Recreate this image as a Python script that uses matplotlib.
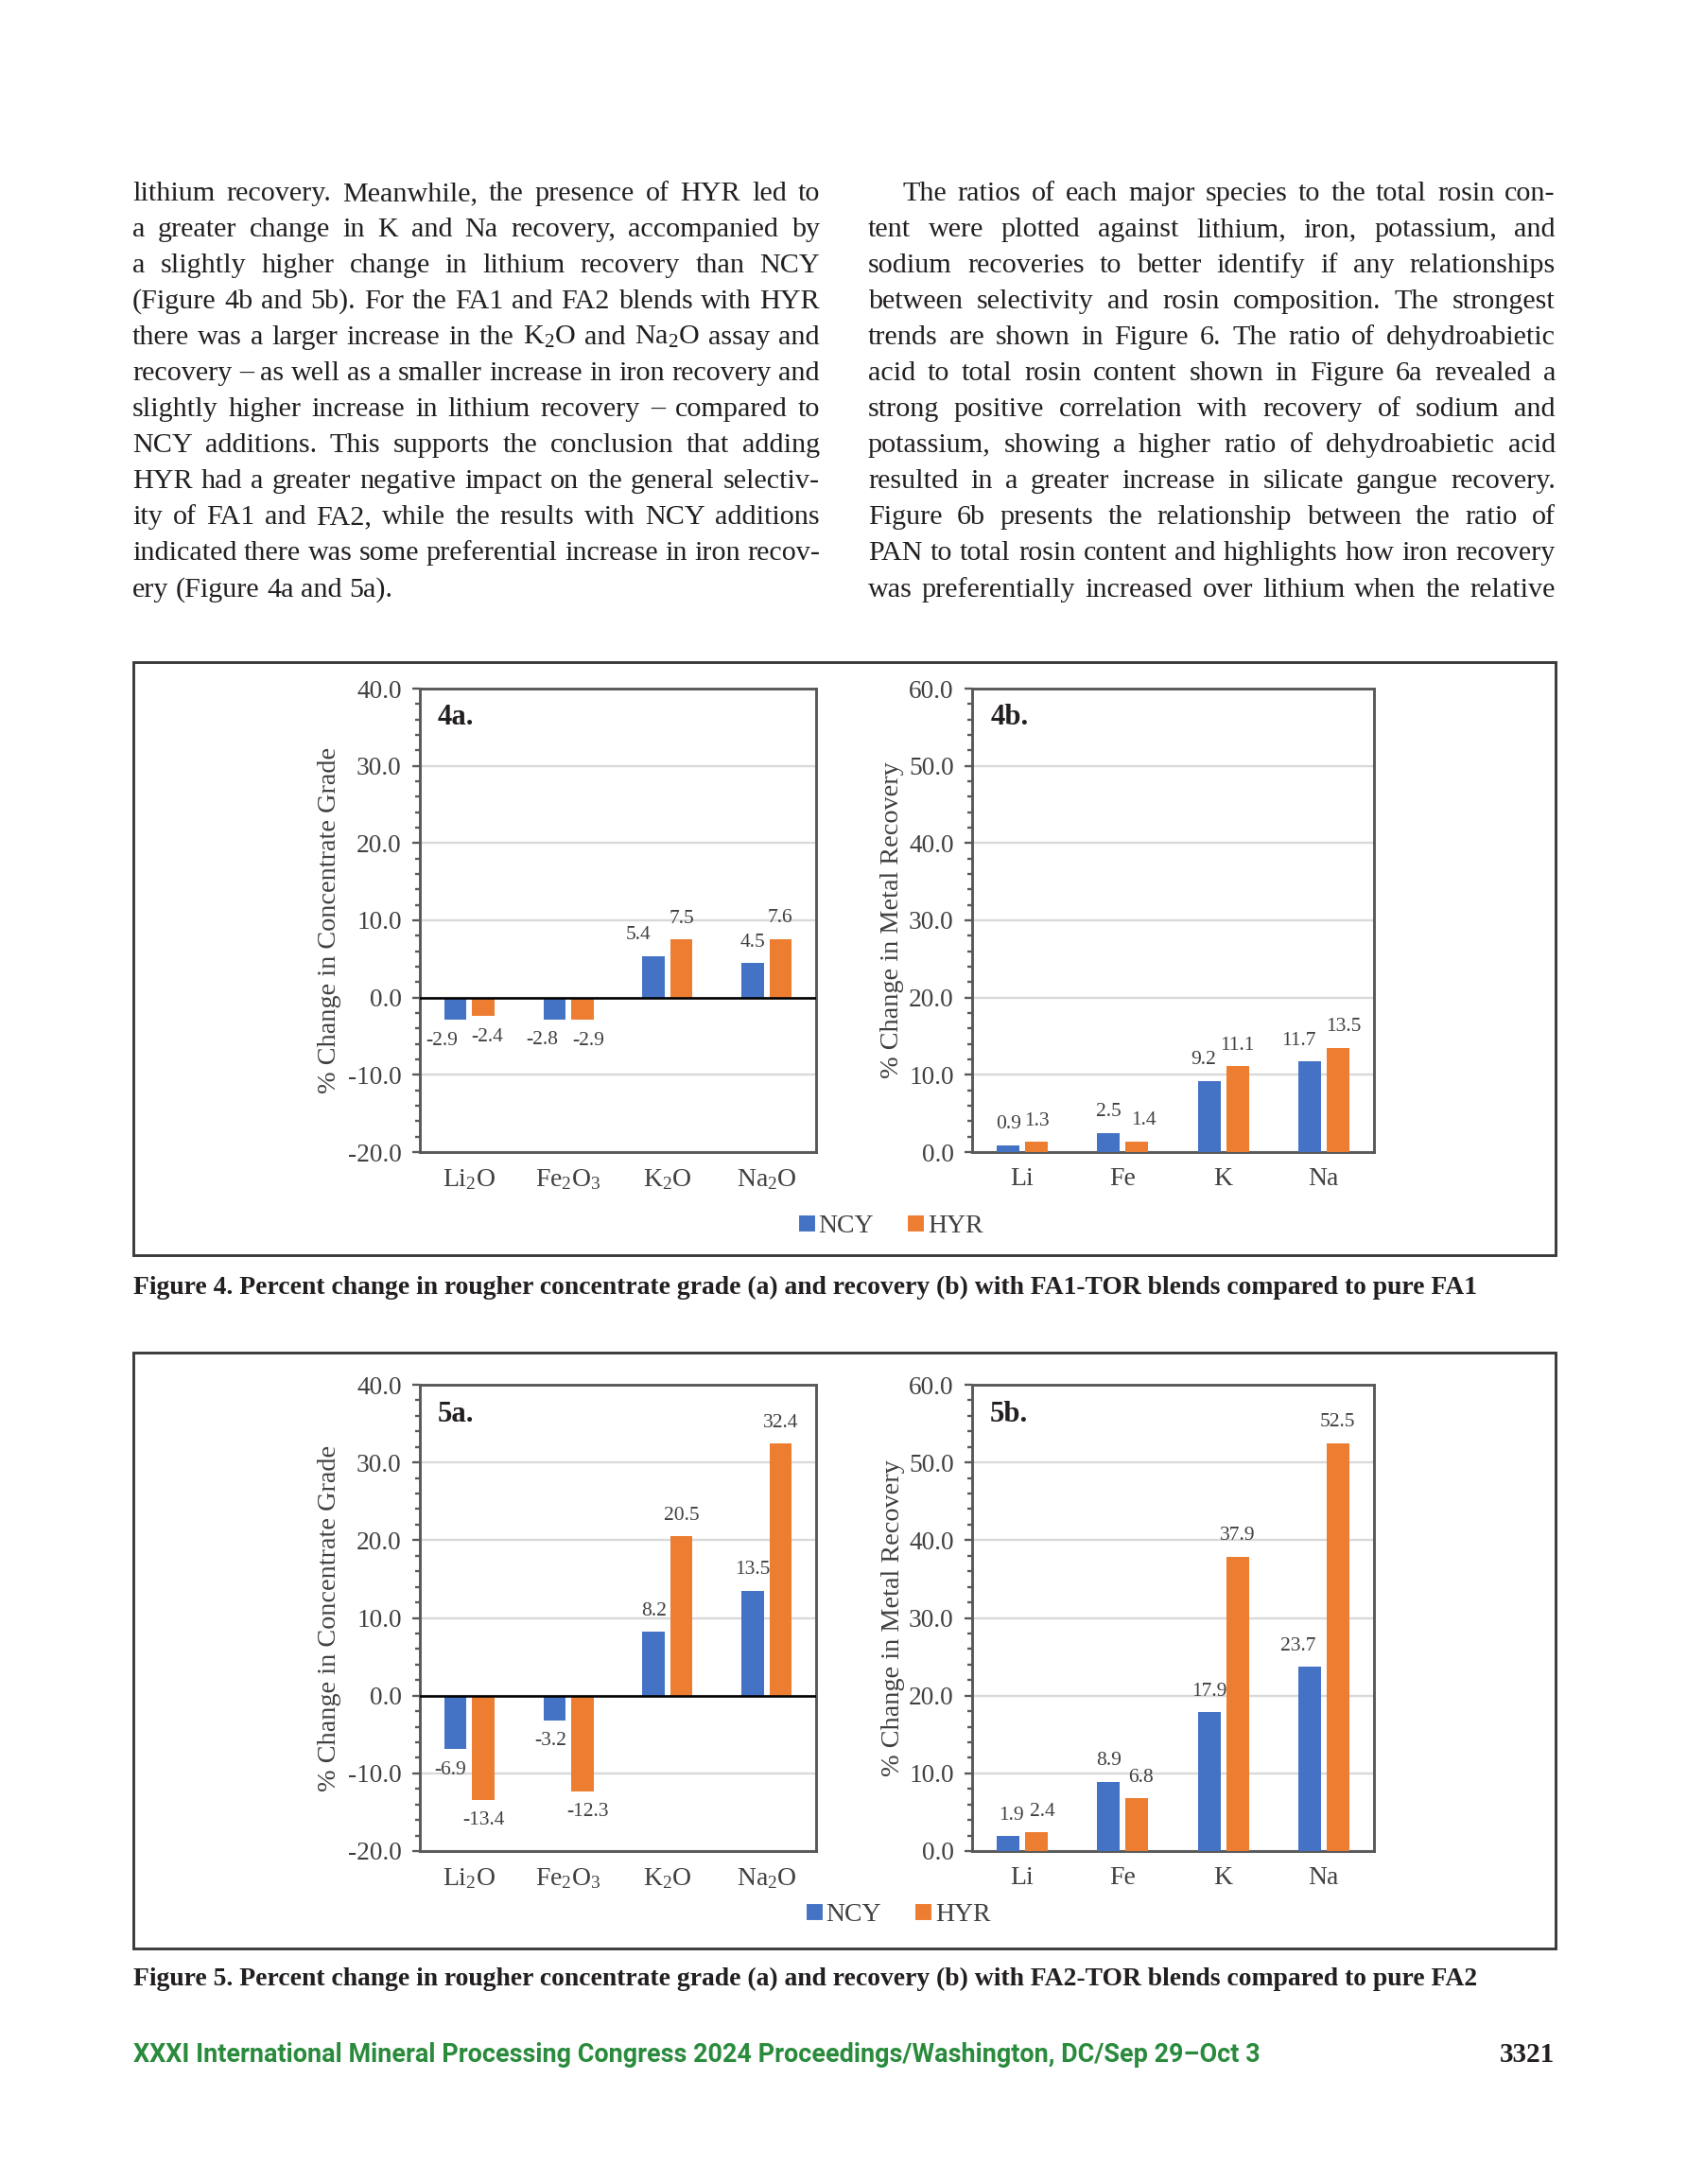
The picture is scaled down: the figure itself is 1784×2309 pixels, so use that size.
import matplotlib
matplotlib.use('Agg')
import matplotlib.pyplot as plt
from matplotlib.ticker import MultipleLocator, FuncFormatter
from matplotlib.lines import Line2D
from matplotlib.patches import Rectangle
import numpy as np

W, H = 1784, 2309
DPI = 210
plt.rcParams['font.family'] = ['Liberation Serif', 'DejaVu Serif']
plt.rcParams['mathtext.fontset'] = 'custom'
plt.rcParams['mathtext.rm'] = 'Liberation Serif'
plt.rcParams['mathtext.it'] = 'Liberation Serif:italic'
plt.rcParams['mathtext.bf'] = 'Liberation Serif:bold'

BLUE = '#4472C4'
ORANGE = '#ED7D31'
TXT = '#404040'

# data
oxides = [r'$\mathrm{Li_{2}O}$', r'$\mathrm{Fe_{2}O_{3}}$', r'$\mathrm{K_{2}O}$', r'$\mathrm{Na_{2}O}$']
metals = ['Li', 'Fe', 'K', 'Na']
series = ['NCY', 'HYR']

grade_fa1_ncy = [-2.9, -2.8, 5.4, 4.5]
grade_fa1_hyr = [-2.4, -2.9, 7.5, 7.6]
rec_fa1_ncy = [0.9, 2.5, 9.2, 11.7]
rec_fa1_hyr = [1.3, 1.4, 11.1, 13.5]
grade_fa2_ncy = [-6.9, -3.2, 8.2, 13.5]
grade_fa2_hyr = [-13.4, -12.3, 20.5, 32.4]
rec_fa2_ncy = [1.9, 8.9, 17.9, 23.7]
rec_fa2_hyr = [2.4, 6.8, 37.9, 52.5]

left_lines = [
    "lithium recovery. Meanwhile, the presence of HYR led to",
    "a greater change in K and Na recovery, accompanied by",
    "a slightly higher change in lithium recovery than NCY",
    "(Figure 4b and 5b). For the FA1 and FA2 blends with HYR",
    r"there was a larger increase in the $\mathrm{K_{2}O}$ and $\mathrm{Na_{2}O}$ assay and",
    "recovery – as well as a smaller increase in iron recovery and",
    "slightly higher increase in lithium recovery – compared to",
    "NCY additions. This supports the conclusion that adding",
    "HYR had a greater negative impact on the general selectiv-",
    "ity of FA1 and FA2, while the results with NCY additions",
    "indicated there was some preferential increase in iron recov-",
    "ery (Figure 4a and 5a).",
]
right_lines = [
    "The ratios of each major species to the total rosin con-",
    "tent were plotted against lithium, iron, potassium, and",
    "sodium recoveries to better identify if any relationships",
    "between selectivity and rosin composition. The strongest",
    "trends are shown in Figure 6. The ratio of dehydroabietic",
    "acid to total rosin content shown in Figure 6a revealed a",
    "strong positive correlation with recovery of sodium and",
    "potassium, showing a higher ratio of dehydroabietic acid",
    "resulted in a greater increase in silicate gangue recovery.",
    "Figure 6b presents the relationship between the ratio of",
    "PAN to total rosin content and highlights how iron recovery",
    "was preferentially increased over lithium when the relative",
]
cap4 = "Figure 4. Percent change in rougher concentrate grade (a) and recovery (b) with FA1-TOR blends compared to pure FA1"
cap5 = "Figure 5. Percent change in rougher concentrate grade (a) and recovery (b) with FA2-TOR blends compared to pure FA2"
footer = "XXXI International Mineral Processing Congress 2024 Proceedings/Washington, DC/Sep 29–Oct 3"
page_no = "3321"

fig = plt.figure(figsize=(W / DPI, H / DPI), dpi=DPI)
renderer = fig.canvas.get_renderer()


def fx(x):
    return x / W


def fy(y):
    return 1 - y / H


def text_w(s, **kw):
    t = fig.text(0, 0, s, **kw)
    w = t.get_window_extent(renderer).width
    t.remove()
    return w


def fit_size(s, target, size0=10, **kw):
    return size0 * target / text_w(s, fontsize=size0, **kw)


def justify(lines, x0, x1, base0, dy, size, indent=0, last_left=False):
    space = text_w('a a', fontsize=size) - text_w('aa', fontsize=size)
    for i, line in enumerate(lines):
        words = line.split(' ')
        ws = [text_w(w, fontsize=size) for w in words]
        start = x0 + (indent if i == 0 else 0)
        avail = x1 - start
        if (last_left and i == len(lines) - 1) or len(words) == 1:
            gap = space
        else:
            gap = (avail - sum(ws)) / (len(words) - 1)
        x = start
        y = base0 + i * dy
        for w, wd in zip(words, ws):
            fig.text(fx(x), fy(y), w, fontsize=size, va='baseline', ha='left', color='#231F20')
            x += wd + gap


# body text
size_body = 10
nat = []
for line in left_lines[:-1] + right_lines:
    nat.append(text_w(line, fontsize=size_body) / 727)
size_body = size_body / max(nat)
justify(left_lines, 140, 867, 212, 38.05, size_body, last_left=True)
justify(right_lines, 918, 1645, 212, 38.05, size_body, indent=37)


def bar_panel(rect, cats, ncy, hyr, ylim, tag, ylabel, dx_ncy, dx_hyr, ylab_x):
    ax = fig.add_axes(rect)
    x = np.arange(len(cats))
    bw, off = 0.224, 0.141
    b1 = ax.bar(x - off, ncy, bw, color=BLUE, zorder=3)
    b2 = ax.bar(x + off, hyr, bw, color=ORANGE, zorder=3)
    ax.set_xlim(-0.5, len(cats) - 0.5)
    ax.set_ylim(*ylim)
    ax.yaxis.set_major_locator(MultipleLocator(10))
    ax.yaxis.set_minor_locator(MultipleLocator(2))
    ax.yaxis.set_major_formatter(FuncFormatter(lambda v, p: f'{v:.1f}'))
    ax.grid(axis='y', which='major', color='#D9D9D9', lw=0.8, zorder=0)
    ax.set_axisbelow(True)
    if ylim[0] < 0:
        ax.axhline(0, color='black', lw=0.9, zorder=4)
    ax.set_xticks(x)
    ax.set_xticklabels(cats, fontsize=9.5, color=TXT)
    ax.tick_params(axis='x', length=0, pad=5.5)
    ax.tick_params(axis='y', which='major', direction='out', length=2.6, width=0.8,
                   labelsize=9.4, pad=4, color='#595959', labelcolor=TXT)
    ax.tick_params(axis='y', which='minor', direction='out', length=1.6, width=0.8, color='#595959')
    for sp in ax.spines.values():
        sp.set_color('#595959')
        sp.set_linewidth(1.0)
    for bars, vals, dxs in ((b1, ncy, dx_ncy), (b2, hyr, dx_hyr)):
        for b, v, dx in zip(bars, vals, dxs):
            ax.annotate(f'{v:.1f}', xy=(b.get_x() + b.get_width() / 2, v),
                        xytext=(dx, 7.5 if v >= 0 else -7.5), textcoords='offset points',
                        ha='center', va='center', fontsize=7.4, color=TXT)
    ax.text(0.045, 0.937, tag, transform=ax.transAxes, fontsize=10.5, fontweight='bold',
            va='center', ha='left', color='#231F20')
    ax.text(ylab_x, 0.5, ylabel, transform=ax.transAxes, rotation=90, ha='center',
            va='center', fontsize=9.7, color=TXT)
    return ax


def ax_rect(l, r, t, b):
    return [fx(l), fy(b), (r - l) / W, (b - t) / H]


lab_a = '% Change in Concentrate Grade'
lab_b = '% Change in Metal Recovery'

# figure 4
bar_panel(ax_rect(444, 863, 728, 1218), oxides, grade_fa1_ncy, grade_fa1_hyr, (-20, 40), '4a.', lab_a,
          [-5, -4.5, -5.5, 0], [1.5, 2, 0, 0], -0.227)
bar_panel(ax_rect(1028, 1453, 728, 1218), metals, rec_fa1_ncy, rec_fa1_hyr, (0, 60), '4b.', lab_b,
          [0, 0, -2, -4], [0, 2.5, 0, 2], -0.2)
# figure 5
bar_panel(ax_rect(444, 863, 1464, 1957), oxides, grade_fa2_ncy, grade_fa2_hyr, (-20, 40), '5a.', lab_a,
          [-2, -1.5, 0, 0], [0, 2, 0, 0], -0.227)
bar_panel(ax_rect(1028, 1453, 1464, 1957), metals, rec_fa2_ncy, rec_fa2_hyr, (0, 60), '5b.', lab_b,
          [1, 0, 0, -4], [2, 1.5, 0, 0], -0.196)

# frames
for top, bot in ((700, 1327), (1430, 2060)):
    fig.patches.append(Rectangle((fx(141), fy(bot)), (1645 - 141) / W, (bot - top) / H,
                                 transform=fig.transFigure, fill=False, edgecolor='#3A3A3A', lw=1.0))

# legends
handles = [Line2D([], [], marker='s', ls='', color=c, markersize=4.5, label=s)
           for c, s in zip([BLUE, ORANGE], series)]
for cx, cy in ((942, 1296), (950, 2024)):
    fig.legend(handles=handles, loc='center', bbox_to_anchor=(fx(cx), fy(cy)), ncol=2, frameon=False,
               fontsize=9.5, handlelength=0.6, handletextpad=0.15, columnspacing=1.3, borderaxespad=0,
               labelcolor=TXT)

# captions
cap_size = fit_size(cap4, 1421, fontweight='bold')
fig.text(fx(141), fy(1361), cap4, fontsize=cap_size, fontweight='bold', va='center', ha='left', color='#231F20')
fig.text(fx(141), fy(2092), cap5, fontsize=cap_size, fontweight='bold', va='center', ha='left', color='#231F20')

# footer
foot_size = fit_size(footer, 1193, family='Roboto', fontweight='bold')
fig.text(fx(141), fy(2172), footer, fontsize=foot_size, family='Roboto', fontweight='bold',
         color='#2A8B3C', va='center', ha='left')
fig.text(fx(1644), fy(2172), page_no, fontsize=10, fontweight='bold', va='center', ha='right', color='#231F20')

fig.savefig('out.png', dpi=DPI, facecolor='white')
